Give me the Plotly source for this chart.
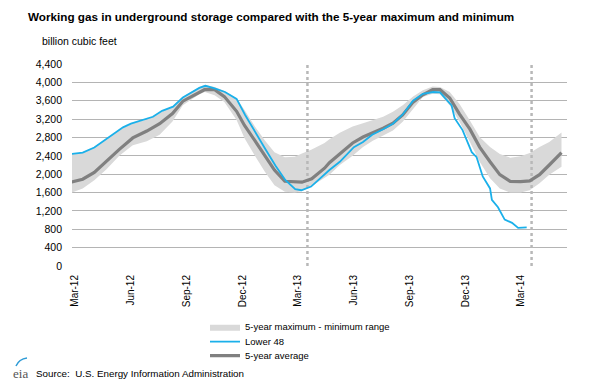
import plotly.graph_objects as go

# ---------------- data ----------------
band_dates = [
    "2012-02-25", "2012-03-14", "2012-04-02", "2012-04-22", "2012-05-13", "2012-06-04",
    "2012-06-27", "2012-07-18", "2012-08-08", "2012-08-25", "2012-09-21", "2012-09-30",
    "2012-10-16", "2012-11-01", "2012-11-21", "2012-12-04", "2012-12-21", "2013-01-06",
    "2013-01-22", "2013-02-08", "2013-02-24", "2013-03-08", "2013-03-24", "2013-04-14",
    "2013-04-22", "2013-05-09", "2013-05-30", "2013-06-16", "2013-07-02", "2013-07-19",
    "2013-08-04", "2013-08-20", "2013-09-06", "2013-09-22", "2013-10-08", "2013-10-20",
    "2013-11-05", "2013-11-21", "2013-12-08", "2013-12-24", "2014-01-10", "2014-01-26",
    "2014-02-12", "2014-03-01", "2014-03-16", "2014-04-01", "2014-04-17", "2014-05-07",
]
avg_5yr = [
    1830, 1890, 2040, 2290, 2540, 2790,
    2940, 3100, 3320, 3590, 3790, 3845,
    3840, 3690, 3370, 3060, 2730, 2400,
    2090, 1845, 1825, 1825, 1900, 2130,
    2250, 2440, 2680, 2810, 2900, 3000,
    3110, 3290, 3570, 3730, 3840, 3840,
    3660, 3310, 2980, 2590, 2270, 1990,
    1845, 1840, 1855, 1990, 2200, 2470,
]
max_5yr = [
    2440, 2480, 2590, 2780, 2970, 3110,
    3190, 3330, 3480, 3680, 3900, 3950,
    3900, 3810, 3650, 3400, 3040, 2740,
    2480, 2370, 2380, 2450, 2540, 2680,
    2760, 2900, 3040, 3110, 3180, 3250,
    3360, 3500, 3690, 3830, 3910, 3900,
    3790, 3530, 3170, 2810, 2590, 2440,
    2360, 2390, 2460, 2590, 2700, 2910,
]
min_5yr = [
    1600, 1690, 1870, 2110, 2400, 2630,
    2720, 2860, 3150, 3500, 3740, 3790,
    3720, 3570, 3180, 2780, 2400, 2060,
    1760, 1615, 1600, 1630, 1740, 1920,
    1990, 2200, 2400, 2590, 2730, 2840,
    2950, 3140, 3430, 3680, 3750, 3740,
    3500, 3140, 2700, 2270, 1910, 1690,
    1600, 1600, 1650, 1800, 1985, 2160,
]

l48_dates = [
    "2012-02-25", "2012-03-14", "2012-04-02", "2012-04-22", "2012-05-02", "2012-05-19",
    "2012-06-01", "2012-06-15", "2012-07-07", "2012-07-22", "2012-08-09", "2012-08-25",
    "2012-09-21", "2012-10-01", "2012-10-16", "2012-11-02", "2012-11-21", "2012-12-05",
    "2012-12-21", "2013-01-07", "2013-01-24", "2013-02-09", "2013-02-25", "2013-03-07",
    "2013-03-23", "2013-04-06", "2013-04-22", "2013-05-09", "2013-06-01", "2013-06-16",
    "2013-07-01", "2013-07-19", "2013-08-04", "2013-08-20", "2013-09-06", "2013-09-22",
    "2013-10-09", "2013-10-20", "2013-10-30", "2013-11-08", "2013-11-13", "2013-11-26",
    "2013-12-11", "2013-12-19", "2013-12-29", "2014-01-10", "2014-01-13", "2014-01-23",
    "2014-02-03", "2014-02-15", "2014-02-25", "2014-03-11",
]
lower_48 = [
    2440, 2470, 2580, 2770, 2860, 3020,
    3100, 3160, 3250, 3380, 3470, 3670,
    3880, 3925, 3870, 3790, 3640, 3290,
    2920, 2550, 2180, 1870, 1675, 1650,
    1730, 1900, 2090, 2270, 2590, 2700,
    2860, 2980, 3100, 3300, 3600, 3750,
    3790, 3780, 3620, 3500, 3220, 2960,
    2480, 2370, 1950, 1690, 1440, 1280,
    1010, 940, 830, 840,
]

marker_dates = ["2013-03-17", "2014-03-19"]   # dotted vertical reference lines

tick_dates = ["2012-03-01", "2012-06-01", "2012-09-01", "2012-12-01", "2013-03-01",
              "2013-06-01", "2013-09-01", "2013-12-01", "2014-03-01"]
tick_labels = ["Mar-12", "Jun-12", "Sep-12", "Dec-12", "Mar-13",
               "Jun-13", "Sep-13", "Dec-13", "Mar-14"]
y_ticks = [0, 400, 800, 1200, 1600, 2000, 2400, 2800, 3200, 3600, 4000, 4400]
y_labels = ["0", "400", "800", "1,200", "1,600", "2,000", "2,400", "2,800",
            "3,200", "3,600", "4,000", "4,400"]

# ---------------- figure ----------------
FONT = "Liberation Sans, Arial, sans-serif"
W, H = 590, 391
L, R, T, B = 72, 23, 64, 125
pw, ph = W - L - R, H - T - B


def px_x(px):
    return (px - L) / pw


def px_y(py):
    return (H - B - py) / ph


fig = go.Figure()

fig.add_trace(go.Scatter(
    x=band_dates, y=min_5yr, mode="lines", line=dict(width=0, color="#D8D8D8"),
    showlegend=False, hoverinfo="skip"))
fig.add_trace(go.Scatter(
    x=band_dates, y=max_5yr, mode="lines", line=dict(width=0, color="#D8D8D8"),
    fill="tonexty", fillcolor="#D9D9D9",
    name="5-year maximum - minimum range", legend="legend"))

for d in marker_dates:
    fig.add_trace(go.Scatter(
        x=[d, d], y=[y_ticks[0], y_ticks[-1]], mode="lines",
        line=dict(color="#B8B8B8", width=2.5, dash="dot"),
        showlegend=False, hoverinfo="skip"))

fig.add_trace(go.Scatter(
    x=band_dates, y=avg_5yr, mode="lines", line=dict(color="#808080", width=3.2),
    name="5-year average", legend="legend3"))
fig.add_trace(go.Scatter(
    x=l48_dates, y=lower_48, mode="lines", line=dict(color="#1AB0EA", width=1.8),
    name="Lower 48", legend="legend2"))

leg_common = dict(font=dict(family=FONT, size=9.5, color="#000"), bgcolor="rgba(0,0,0,0)",
                  xanchor="left", yanchor="middle", itemwidth=30,
                  x=px_x(205))

fig.update_layout(
    width=W, height=H,
    margin=dict(l=L, r=R, t=T, b=B),
    paper_bgcolor="white", plot_bgcolor="white",
    font=dict(family=FONT, size=10, color="#000"),
    title=dict(text="<b>Working gas in underground storage compared with the 5-year maximum and minimum</b>",
               x=28 / W, xanchor="left", y=1 - 17 / H, yanchor="middle",
               font=dict(family=FONT, size=11.7, color="#000")),
    xaxis=dict(type="date", range=["2012-02-25 12:00", "2014-05-16"],
               tickvals=tick_dates, ticktext=tick_labels, tickangle=-90,
               showgrid=False, zeroline=False, showline=False, ticks="",
               ticklabelstandoff=6, tickfont=dict(size=10)),
    yaxis=dict(range=[0, 4400], tickvals=y_ticks, ticktext=y_labels,
               showgrid=True, gridcolor="#B4B4B4", gridwidth=1,
               zeroline=False, showline=False, ticks="",
               ticklabelstandoff=9, tickfont=dict(size=10.5)),
    legend=dict(**leg_common, y=px_y(326.7)),
    legend2=dict(**leg_common, y=px_y(341.7)),
    legend3=dict(**leg_common, y=px_y(355.7)),
    showlegend=True,
)

fig.add_annotation(text="billion cubic feet", xref="paper", yref="paper",
                   x=px_x(40), y=px_y(41), xanchor="left", yanchor="middle",
                   showarrow=False, font=dict(family=FONT, size=10.5, color="#000"))
fig.add_annotation(text="Source:  U.S. Energy Information Administration", xref="paper", yref="paper",
                   x=px_x(34), y=px_y(373), xanchor="left", yanchor="middle",
                   showarrow=False, font=dict(family=FONT, size=9.8, color="#000"))
fig.add_annotation(text="eia", xref="paper", yref="paper",
                   x=px_x(11), y=px_y(373), xanchor="left", yanchor="middle",
                   showarrow=False, font=dict(family="Liberation Serif, serif", size=13, color="#555"))
fig.add_shape(type="path", xref="paper", yref="paper",
              path="M %f %f Q %f %f %f %f" % (px_x(16), px_y(366), px_x(19), px_y(359),
                                             px_x(27), px_y(358)),
              line=dict(color="#2E9BD6", width=1.5))

fig.write_html("out.html", config={"displayModeBar": False},
               post_script="document.body.style.margin='0px';")
